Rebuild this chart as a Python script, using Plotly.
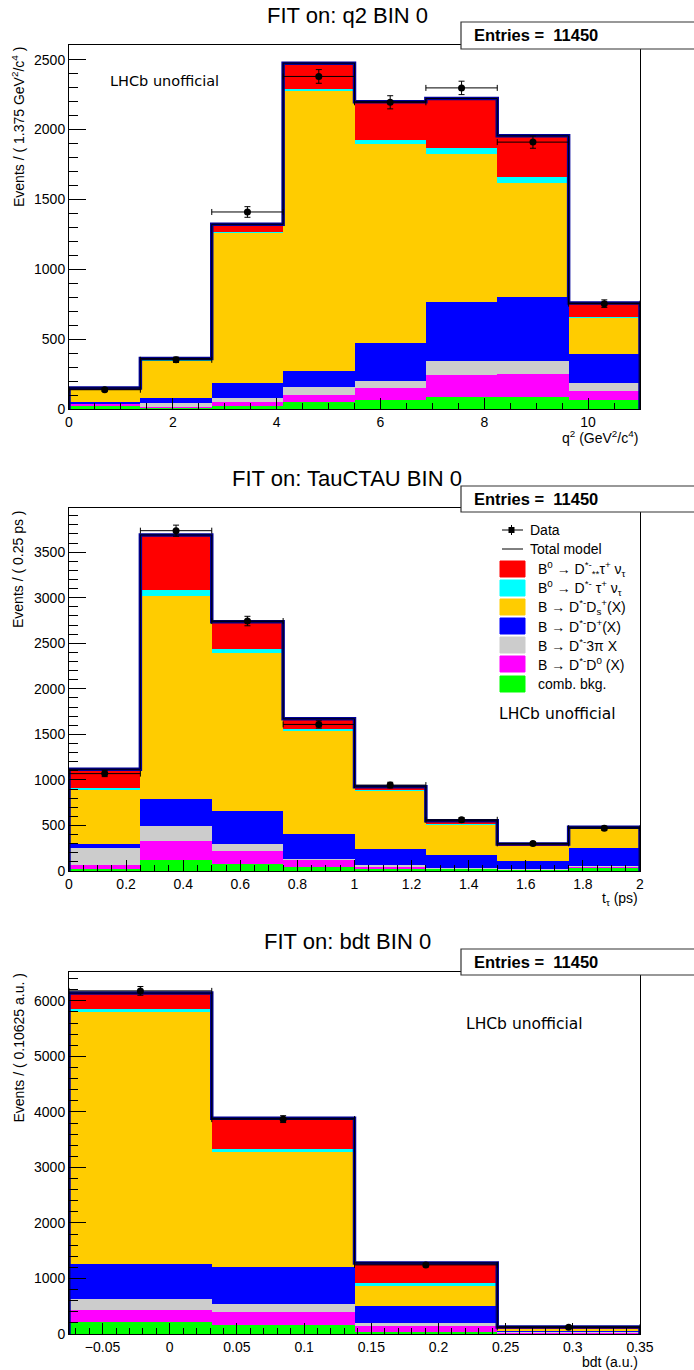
import plotly.graph_objects as go
import numpy as np

W, H = 694, 1370

# ---------------- data: q2 panel ----------------
q2_edges = [0.0, 1.375, 2.75, 4.125, 5.5, 6.875, 8.25, 9.625, 11.0]
q2_comb = [24, 12, 22, 53, 65, 85, 85, 68]
q2_dd0 = [12, 5, 31, 44, 85, 157, 169, 58]
q2_3pi = [1, 24, 29, 60, 53, 103, 89, 58]
q2_ddp = [16, 36, 102, 113, 266, 421, 457, 207]
q2_dds = [87, 268, 1076, 2007, 1429, 1061, 815, 261]
q2_dst = [3, 7, 7, 13, 29, 43, 42, 10]
q2_dss = [7, 10, 55, 185, 272, 352, 298, 96]
q2_data = [138, 352, 1410, 2380, 2195, 2298, 1910, 754]
q2_err = [12, 19, 38, 49, 47, 48, 44, 27]

# ---------------- data: TauCTAU panel ----------------
tau_edges = [0.0, 0.25, 0.5, 0.75, 1.0, 1.25, 1.5, 1.75, 2.0]
tau_comb = [18, 118, 81, 44, 26, 22, 15, 41]
tau_dd0 = [45, 215, 141, 86, 26, 6, 3, 5]
tau_3pi = [185, 159, 70, 3, 11, 5, 4, 6]
tau_ddp = [44, 300, 363, 278, 174, 141, 89, 203]
tau_dds = [596, 2232, 1743, 1126, 643, 340, 167, 207]
tau_dst = [26, 65, 44, 25, 10, 6, 4, 4]
tau_dss = [203, 600, 294, 109, 35, 31, 14, 15]
tau_data = [1069, 3736, 2744, 1609, 943, 562, 303, 470]
tau_err = [33, 61, 52, 40, 31, 24, 17, 22]

# ---------------- data: bdt panel ----------------
bdt_edges = [-0.075, 0.03125, 0.1375, 0.24375, 0.35]
bdt_comb = [212, 170, 42, 10]
bdt_dd0 = [212, 224, 97, 20]
bdt_3pi = [212, 151, 61, 8]
bdt_ddp = [618, 655, 297, 22]
bdt_dds = [4546, 2076, 376, 38]
bdt_dst = [60, 64, 54, 8]
bdt_dss = [280, 545, 353, 22]
bdt_data = [6180, 3870, 1245, 121]
bdt_err = [79, 62, 35, 11]

entries_text = "Entries =\u00a0 11450"

comp_names = ["comb. bkg.", "B \u2192 D<sup>*-</sup>D<sup>0</sup> (X)", "B \u2192 D<sup>*-</sup>3\u03c0 X",
              "B \u2192 D<sup>*-</sup>D<sup>+</sup>(X)", "B \u2192 D<sup>*-</sup>D<sub>s</sub><sup>+</sup>(X)",
              "B<sup>0</sup> \u2192 D<sup>*-</sup> \u03c4<sup>+</sup> \u03bd<sub>\u03c4</sub>",
              "B<sup>0</sup> \u2192 D<sup>*-</sup><sub>**</sub>\u03c4<sup>+</sup> \u03bd<sub>\u03c4</sub>"]
comp_colors = ["#00ff00", "#ff00ff", "#cccccc", "#0000ff", "#ffcc00", "#00ffff", "#ff0000"]

panels = [
    dict(edges=q2_edges, comps=[q2_comb, q2_dd0, q2_3pi, q2_ddp, q2_dds, q2_dst, q2_dss],
         data=q2_data, err=q2_err, title="FIT on: q2 BIN 0",
         ytitle="Events / ( 1.375 GeV<sup>2</sup>/c<sup>4</sup> )",
         xtitle="q<sup>2</sup> (GeV<sup>2</sup>/c<sup>4</sup>)",
         frame=(45, 409), yrange=[0, 2605], ydtick=500, yminor=100, xdtick=2, xminor=0.5, xtick0=0,
         title_y=15, box=(22, 49), lhcb=(108, 81, 14.5)),
    dict(edges=tau_edges, comps=[tau_comb, tau_dd0, tau_3pi, tau_ddp, tau_dds, tau_dst, tau_dss],
         data=tau_data, err=tau_err, title="FIT on: TauCTAU BIN 0",
         ytitle="Events / ( 0.25 ps )",
         xtitle="t<sub>\u03c4</sub> (ps)",
         frame=(508, 871), yrange=[0, 3985], ydtick=500, yminor=100, xdtick=0.2, xminor=0.05, xtick0=0,
         title_y=479, box=(486, 512), lhcb=(497, 714, 15.5)),
    dict(edges=bdt_edges, comps=[bdt_comb, bdt_dd0, bdt_3pi, bdt_ddp, bdt_dds, bdt_dst, bdt_dss],
         data=bdt_data, err=bdt_err, title="FIT on: bdt BIN 0",
         ytitle="Events / ( 0.10625 a.u. )",
         xtitle="bdt (a.u.)",
         frame=(972, 1334), yrange=[0, 6520], ydtick=1000, yminor=200, xdtick=0.05, xminor=0.01, xtick0=0,
         title_y=941, box=(949, 975), lhcb=(464, 1024, 15.5)),
]

FONT = "Liberation Sans"
XL, XR = 69, 640


def pxx(x):
    return x / W


def pyy(y):
    return 1 - y / H


fig = go.Figure()
annotations = []
shapes = []

for i, p in enumerate(panels):
    sfx = "" if i == 0 else str(i + 1)
    xa, ya = "x" + sfx, "y" + sfx
    edges = np.array(p["edges"])
    centers = (edges[:-1] + edges[1:]) / 2
    widths = edges[1:] - edges[:-1]
    for vals, name, col in zip(p["comps"], comp_names, comp_colors):
        fig.add_trace(go.Bar(x=centers, y=vals, width=widths, marker=dict(color=col, line=dict(width=0)),
                             name=name, showlegend=False, xaxis=xa, yaxis=ya, hoverinfo="skip"))
    total = np.sum(np.array(p["comps"]), axis=0)
    ox = [edges[0]] + list(edges[:-1]) + [edges[-1]]
    oy = [0] + list(total) + [0]
    fig.add_trace(go.Scatter(x=ox, y=oy, mode="lines", line=dict(color="#000099", width=3.5, shape="hv"),
                             showlegend=False, xaxis=xa, yaxis=ya, hoverinfo="skip"))
    fig.add_trace(go.Scatter(x=ox, y=oy, mode="lines", line=dict(color="black", width=1, shape="hv"),
                             showlegend=False, xaxis=xa, yaxis=ya, hoverinfo="skip"))
    fig.add_trace(go.Scatter(x=centers, y=p["data"], mode="markers",
                             marker=dict(color="black", size=7, symbol="circle"),
                             error_y=dict(type="data", array=p["err"], color="black", thickness=1, width=3),
                             error_x=dict(type="data", array=list(widths / 2), color="black", thickness=1, width=3),
                             showlegend=False, xaxis=xa, yaxis=ya))

    top, bot = p["frame"]
    e0, e1 = float(edges[0]), float(edges[-1])
    fig.update_layout(**{
        "xaxis" + sfx: dict(domain=[pxx(XL), pxx(XR)], range=[e0, e1], anchor=ya,
                            showline=True, mirror=True, linecolor="black", linewidth=1,
                            ticks="inside", ticklen=11, tickcolor="black", tickwidth=1,
                            dtick=p["xdtick"], tick0=p["xtick0"],
                            minor=dict(ticks="inside", ticklen=6, dtick=p["xminor"], tick0=p["xtick0"], tickcolor="black"),
                            showgrid=False, zeroline=False, automargin=False,
                            tickfont=dict(family=FONT, size=14, color="black")),
        "yaxis" + sfx: dict(domain=[pyy(bot), pyy(top)], range=p["yrange"], anchor=xa,
                            showline=True, mirror=True, linecolor="black", linewidth=1,
                            ticks="inside", ticklen=17, tickcolor="black", tickwidth=1,
                            dtick=p["ydtick"], tick0=0,
                            minor=dict(ticks="inside", ticklen=9, dtick=p["yminor"], tick0=0, tickcolor="black"),
                            showgrid=False, zeroline=False, automargin=False,
                            tickfont=dict(family=FONT, size=14, color="black")),
    })

    # title
    annotations.append(dict(text=p["title"], x=0.5, y=pyy(p["title_y"]), xref="paper", yref="paper",
                            xanchor="center", yanchor="middle", showarrow=False,
                            font=dict(family=FONT, size=22, color="black")))
    # y title
    annotations.append(dict(text=p["ytitle"], x=pxx(18), y=pyy(top), xref="paper", yref="paper",
                            xanchor="center", yanchor="top", textangle=-90, showarrow=False,
                            font=dict(family=FONT, size=14, color="black")))
    # x title
    annotations.append(dict(text=p["xtitle"], x=pxx(XR), y=pyy(bot + 28), xref="paper", yref="paper",
                            xanchor="right", yanchor="middle", showarrow=False,
                            font=dict(family=FONT, size=14, color="black")))
    # LHCb unofficial
    lx, ly, ls = p["lhcb"]
    annotations.append(dict(text="LHCb unofficial", x=pxx(lx), y=pyy(ly), xref="paper", yref="paper",
                            xanchor="left", yanchor="middle", showarrow=False,
                            font=dict(family="DejaVu Sans", size=ls, color="black")))
    # entries box
    b0, b1 = p["box"]
    shapes.append(dict(type="rect", xref="paper", yref="paper", x0=pxx(461), x1=pxx(700),
                       y0=pyy(b1), y1=pyy(b0), fillcolor="white", line=dict(color="#333333", width=1.2),
                       layer="above"))
    annotations.append(dict(text="<b>" + entries_text + "</b>", x=pxx(472), y=pyy((b0 + b1) / 2),
                            xref="paper", yref="paper", xanchor="left", yanchor="middle", showarrow=False,
                            font=dict(family=FONT, size=16.5, color="black")))

# ---------------- legend (panel 2) ----------------
leg_rows = [530, 549, 569, 588, 607, 626, 645, 664, 684]
# Data
shapes.append(dict(type="line", xref="paper", yref="paper", x0=pxx(502), x1=pxx(523),
                   y0=pyy(leg_rows[0]), y1=pyy(leg_rows[0]), line=dict(color="black", width=1)))
shapes.append(dict(type="line", xref="paper", yref="paper", x0=pxx(511.5), x1=pxx(511.5),
                   y0=pyy(leg_rows[0] - 5), y1=pyy(leg_rows[0] + 5), line=dict(color="black", width=1)))
shapes.append(dict(type="rect", xref="paper", yref="paper", x0=pxx(508.5), x1=pxx(514.5),
                   y0=pyy(leg_rows[0] + 3), y1=pyy(leg_rows[0] - 3), fillcolor="black", line=dict(width=0)))
annotations.append(dict(text="Data", x=pxx(528), y=pyy(leg_rows[0]), xref="paper", yref="paper",
                        xanchor="left", yanchor="middle", showarrow=False,
                        font=dict(family=FONT, size=14, color="black")))
# Total model
shapes.append(dict(type="line", xref="paper", yref="paper", x0=pxx(502), x1=pxx(523),
                   y0=pyy(leg_rows[1]), y1=pyy(leg_rows[1]), line=dict(color="black", width=1)))
annotations.append(dict(text="Total model", x=pxx(528), y=pyy(leg_rows[1]), xref="paper", yref="paper",
                        xanchor="left", yanchor="middle", showarrow=False,
                        font=dict(family=FONT, size=14, color="black")))
for row, name, col in zip(leg_rows[2:], comp_names[::-1], comp_colors[::-1]):
    shapes.append(dict(type="rect", xref="paper", yref="paper", x0=pxx(500), x1=pxx(525),
                       y0=pyy(row + 8), y1=pyy(row - 8), fillcolor=col, line=dict(color=col, width=1)))
    annotations.append(dict(text=name, x=pxx(536), y=pyy(row), xref="paper", yref="paper",
                            xanchor="left", yanchor="middle", showarrow=False,
                            font=dict(family=FONT, size=14, color="black")))

fig.update_layout(
    width=W, height=H, autosize=False,
    margin=dict(l=0, r=0, t=0, b=0),
    paper_bgcolor="white", plot_bgcolor="white",
    barmode="stack", bargap=0,
    showlegend=False,
    annotations=annotations, shapes=shapes,
    font=dict(family=FONT, color="black"),
)

fig.write_html("out.html")
